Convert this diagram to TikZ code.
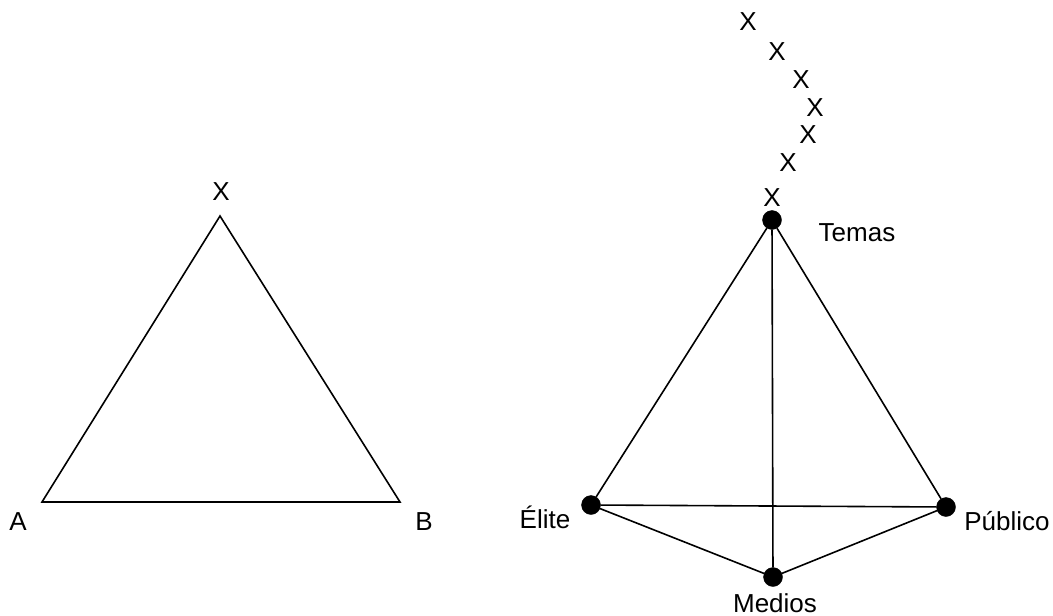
\documentclass[tikz,border=0pt]{standalone}
\usepackage{fontspec}
\setmainfont{Liberation Sans}
\usepackage{tikz}
\usetikzlibrary{positioning}
\tikzset{
  dot/.style ={circle, fill=black, draw=black, minimum size=19pt, inner sep=0pt},
  lbl/.style ={inner sep=0pt, font=\fontsize{26}{31}\selectfont},
  edge/.style={line width=1.6pt, line join=miter},
}

\begin{document}
\begin{tikzpicture}[x=1pt, y=-1pt]
        \useasboundingbox (0,0) rectangle (1053,616);
        % triangle A--B--X
        \coordinate (X0) at (220,216);
        \coordinate (A0) at (42,502);
        \coordinate (B0) at (400,502);
        \node[lbl, anchor=base] (xl) at (221,200) {X};
        \node[lbl, anchor=base] (al) at (18,530) {A};
        \node[lbl, anchor=base] (bl) at (424,530) {B};
        \draw[edge] (A0) -- (X0) -- (B0) -- cycle;
        % tetrahedron
        \node[dot] (T) at (772,220) {};
        \node[dot] (E) at (591,505) {};
        \node[dot] (P) at (946,507) {};
        \node[dot] (M) at (773,577) {};
        \node[lbl, anchor=base] (tl) at (857,241) {Temas};
        \node[lbl, anchor=base] (el) at (545,528) {Élite};
        \node[lbl, anchor=base] (pl) at (1007,530) {Público};
        \node[lbl, anchor=base] (ml) at (775,612) {Medios};
        \draw[edge] (T) -- (E);
        \draw[edge] (T) -- (P);
        \draw[edge] (T) -- (M);
        \draw[edge] (E) -- (P);
        \draw[edge] (E) -- (M);
        \draw[edge] (M) -- (P);
        % the X's above Temas
        \foreach \i/\px/\py in {1/748/22, 2/777/52, 3/801/80, 4/815/108, 5/808/135, 6/788/163, 7/772/198}
          \node[lbl] (x\i) at (\px,\py) {X};
      \end{tikzpicture}
\end{document}
